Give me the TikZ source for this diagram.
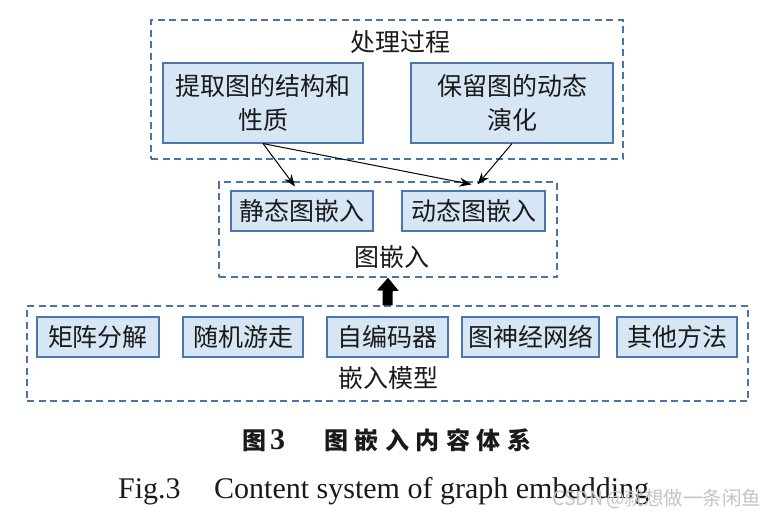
\documentclass[tikz,border=0pt]{standalone}
\usepackage{fontspec}
\setmainfont{Liberation Serif}
\newfontfamily\cjk{Noto Sans CJK SC}
\usetikzlibrary{arrows.meta}
\definecolor{dashc}{HTML}{4B74A9}
\definecolor{boxc}{HTML}{4A77AE}
\definecolor{boxfill}{HTML}{D6E6F4}
\definecolor{txt}{HTML}{1A1A1A}
\definecolor{wmc}{HTML}{C4C4C4}
\begin{document}
\begin{tikzpicture}[x=1pt,y=-1pt,
  grp/.style={draw=dashc, line width=1.3pt, dash pattern=on 7pt off 4.5pt, inner sep=0pt},
  item/.style={draw=boxc, fill=boxfill, line width=1.1pt, inner sep=0pt, text=txt, align=center,
    font=\cjk\fontsize{25}{34}\selectfont},
  lab/.style={font=\cjk\fontsize{25}{30}\selectfont, text=txt, inner sep=0pt},
  conn/.style={draw=black, line width=1pt, -{Stealth[length=12pt,width=9pt]}},
  captxt/.style={anchor=base west, inner sep=0pt, text=txt}]
\useasboundingbox (0,0) rectangle (772,517);

% groups
\node[grp, minimum width=472pt, minimum height=139pt] (g1) at (387,89.5) {};
\node[grp, minimum width=338pt, minimum height=95pt] (g2) at (388,229.5) {};
\node[grp, minimum width=721pt, minimum height=95pt] (g3) at (387.5,353.5) {};

% group labels
\node[lab] (t1) at (400,42) {处理过程};
\node[lab] (t2) at (392,257) {图嵌入};
\node[lab] (t3) at (388,378) {嵌入模型};

% top boxes
\node[item, minimum width=200pt, minimum height=80pt] (a1) at (263,103) {\vspace{5pt}提取图的结构和\\性质};
\node[item, minimum width=202pt, minimum height=80pt] (a2) at (512,103) {\vspace{5pt}保留图的动态\\演化};

% middle boxes
\node[item, minimum width=142pt, minimum height=40pt] (b1) at (302,211) {静态图嵌入};
\node[item, minimum width=143pt, minimum height=40pt] (b2) at (473.5,211) {动态图嵌入};

% bottom boxes
\node[item, minimum width=122pt, minimum height=40pt] (c1) at (98,337) {矩阵分解};
\node[item, minimum width=120pt, minimum height=40pt] (c2) at (243,337) {随机游走};
\node[item, minimum width=121pt, minimum height=40pt] (c3) at (387.5,337) {自编码器};
\node[item, minimum width=137pt, minimum height=40pt] (c4) at (530.5,337) {图神经网络};
\node[item, minimum width=120pt, minimum height=40pt] (c5) at (677,337) {其他方法};

% connectors
\draw[conn] (a1.south) -- ([xshift=-7pt,yshift=4pt]b1.north);
\draw[conn] (a1.south) -- ([xshift=-2pt,yshift=6pt]b2.north);
\draw[conn] (a2.south) -- ([xshift=4pt,yshift=6pt]b2.north);
\draw[line width=10pt, -{Triangle[length=13pt,width=21pt]}] (g3.north) -- (g2.south);

% captions
\node[captxt, font=\cjk\bfseries\fontsize{24}{24}\selectfont] (cap1) at (242,449)
  {图\hspace{4pt}{\rmfamily\bfseries\fontsize{30}{30}\selectfont 3}};
\node[captxt, font=\cjk\bfseries\fontsize{24}{24}\selectfont] (cap2) at (324,449)
  {图\hspace{6.5pt}嵌\hspace{6.5pt}入\hspace{6.5pt}内\hspace{6.5pt}容\hspace{6.5pt}体\hspace{6.5pt}系};
\node[captxt, font=\fontsize{30}{30}\selectfont] (cap3) at (118,498) {Fig.3};
\node[captxt, font=\fontsize{30}{30}\selectfont] (cap4) at (214,498) {Content system of graph embedding};
\node[captxt, font=\cjk\fontsize{19.5}{20}\selectfont, text=wmc] (wm) at (552,505) {CSDN\hspace{3pt}@就想做一条闲鱼};
\end{tikzpicture}
\end{document}
